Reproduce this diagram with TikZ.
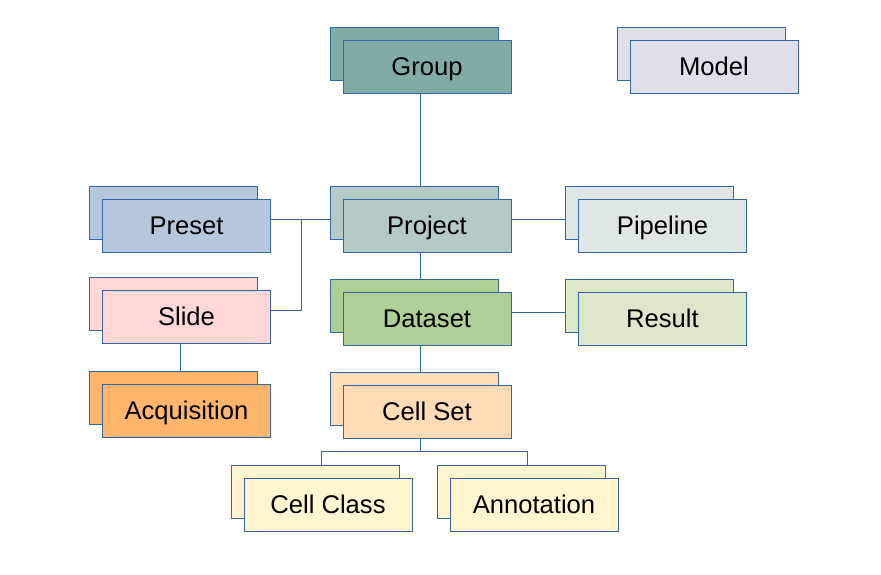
\documentclass[tikz,border=0pt]{standalone}
\usepackage{fontspec}
\setmainfont{Liberation Sans}
\usetikzlibrary{shadows}

\definecolor{edgeblue}{HTML}{3465A4}
\definecolor{groupc}{HTML}{81ACA6}
\definecolor{modelc}{HTML}{E0DEE8}
\definecolor{projectc}{HTML}{B3CAC7}
\definecolor{presetc}{HTML}{B4C7DC}
\definecolor{pipelinec}{HTML}{DEE6E6}
\definecolor{slidec}{HTML}{FFD7D7}
\definecolor{datasetc}{HTML}{AFD095}
\definecolor{resultc}{HTML}{DDE8CB}
\definecolor{acqc}{HTML}{FFB66C}
\definecolor{cellsetc}{HTML}{FFDBB6}
\definecolor{cellc}{HTML}{FFF5CE}

\tikzset{
    entity/.style={draw=edgeblue, line width=0.9pt, fill=#1,
        minimum width=168pt, minimum height=53pt,
        text height=20.6pt, text depth=2pt,
        font=\fontsize{25.6}{31}\selectfont,
        copy shadow={shadow xshift=-13pt, shadow yshift=13pt}},
    link/.style={draw=edgeblue, line width=0.8pt}
}

\begin{document}
\begin{tikzpicture}[x=1pt,y=-1pt]
    \useasboundingbox (0,0) rectangle (881,575);

    \node[entity=groupc] (grp) at (427,66.5) {Group};
    \node[entity=modelc] (mdl) at (714,66.5) {Model};

    \node[entity=presetc] (pre) at (186.5,225.5) {Preset};
    \node[entity=projectc] (prj) at (427,225.5) {Project};
    \node[entity=pipelinec] (pip) at (662.5,225.5) {Pipeline};

    \node[entity=slidec] (sld) at (186.5,316.5) {Slide};
    \node[entity=datasetc] (dst) at (427,318.5) {Dataset};
    \node[entity=resultc] (res) at (662.5,318.5) {Result};

    \node[entity=acqc] (acq) at (186.5,410.5) {Acquisition};
    \node[entity=cellsetc] (cst) at (427,411.5) {Cell Set};

    \node[entity=cellc] (ccl) at (328,504.5) {Cell Class};
    \node[entity=cellc] (ann) at (534,504.5) {Annotation};

    % tree links
    \draw[link] ([xshift=-6.5pt]grp.south) -- ([xshift=-6.5pt,yshift=13pt]prj.north);
    \draw[link] ([xshift=-6.5pt]prj.south) -- ([xshift=-6.5pt,yshift=13pt]dst.north);
    \draw[link] ([xshift=-6.5pt]dst.south) -- ([xshift=-6.5pt,yshift=13pt]cst.north);
    \draw[link] ([xshift=-6.5pt]sld.south) -- ([xshift=-6.5pt,yshift=13pt]acq.north);

    \draw[link] ([yshift=6.5pt]pre.east) -- ([xshift=-13pt,yshift=6.5pt]prj.west);
    \draw[link] ([yshift=6.5pt]sld.east) -| ([xshift=30pt,yshift=6.5pt]pre.east);
    \draw[link] ([yshift=6.5pt]prj.east) -- ([xshift=-13pt,yshift=6.5pt]pip.west);
    \draw[link] ([yshift=6.5pt]dst.east) -- ([xshift=-13pt,yshift=6.5pt]res.west);

    \draw[link] ([xshift=-6.5pt]cst.south) -- ++(0,13)
        -| ([xshift=-6.5pt,yshift=13pt]ccl.north);
    \draw[link] ([xshift=-6.5pt]cst.south) ++(0,13)
        -| ([xshift=-6.5pt,yshift=13pt]ann.north);
\end{tikzpicture}
\end{document}
